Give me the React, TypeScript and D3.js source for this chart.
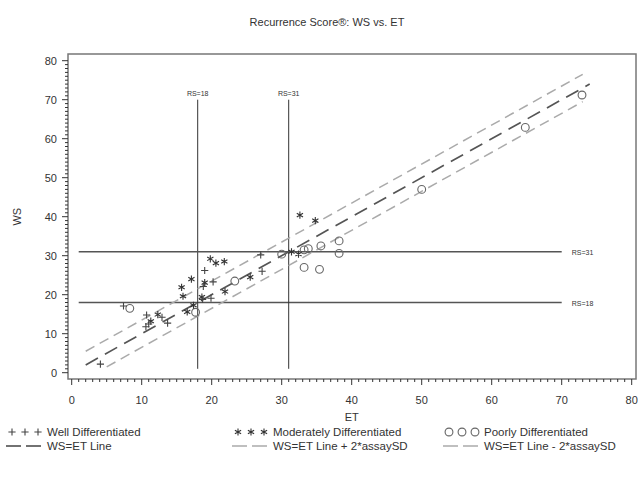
import { useEffect, useRef } from 'react';
import * as d3 from 'd3';

// [ET, WS] pairs
const wellDiff: [number, number][] = [
  [4.1, 2.2], [7.4, 17.1], [10.7, 14.8], [10.6, 11.8], [11.0, 12.5],
  [12.9, 14.2], [13.7, 12.7], [19.0, 26.2], [18.8, 22.1], [20.2, 23.3],
  [19.9, 19.1], [18.7, 18.8], [27.0, 30.2], [27.2, 26.0],
];
const modDiff: [number, number][] = [
  [11.3, 13.2], [12.3, 14.9], [15.7, 21.9], [15.9, 19.6], [17.1, 24.0],
  [16.5, 15.6], [17.4, 17.3], [18.6, 19.4], [19.0, 23.1], [19.8, 29.2],
  [20.6, 28.1], [21.8, 28.5], [21.9, 20.8], [25.5, 24.5], [31.4, 31.0],
  [32.4, 30.4], [32.6, 40.4], [34.8, 39.0],
];
const poorDiff: [number, number][] = [
  [8.3, 16.5], [17.7, 15.5], [23.3, 23.5], [30.0, 30.4], [33.2, 31.5],
  [33.8, 31.8], [35.6, 32.5], [38.2, 33.8], [38.2, 30.6], [33.2, 27.0],
  [35.4, 26.5], [50.0, 47.0], [64.8, 62.9], [72.9, 71.2],
];

const etLine: [number, number][] = [[2, 2], [74, 74]];
const etLinePlus: [number, number][] = [[2, 5.5], [73, 76.5]];
const etLineMinus: [number, number][] = [[5, 1.5], [73, 69.5]];

const rsCutoffs = [18, 31];
const refSpan = [1, 70];

const etTicks = [0, 10, 20, 30, 40, 50, 60, 70, 80];
const wsTicks = [0, 10, 20, 30, 40, 50, 60, 70, 80];

const title = 'Recurrence Score®: WS vs. ET';

const FONT = '"Liberation Sans", Arial, sans-serif';
const INK = '#333';

function plusPath(cx: number, cy: number, r: number) {
  return `M${cx - r},${cy}H${cx + r}M${cx},${cy - r}V${cy + r}`;
}
function starPath(cx: number, cy: number, r: number) {
  const dx = r * Math.cos(Math.PI / 6);
  const dy = r * Math.sin(Math.PI / 6);
  return `M${cx},${cy - r}V${cy + r}M${cx - dx},${cy - dy}L${cx + dx},${cy + dy}M${cx - dx},${cy + dy}L${cx + dx},${cy - dy}`;
}

export default function App() {
  const svgRef = useRef<SVGSVGElement>(null);

  useEffect(() => {
    if (!svgRef.current) return;
    const svg = d3.select(svgRef.current);
    svg.selectAll('*').remove();

    const x = d3.scaleLinear().domain([0, 80]).range([71.7, 631.7]);
    const y = d3.scaleLinear().domain([0, 80]).range([372.7, 60.7]);
    const frame = { left: 68, right: 636, top: 54, bottom: 379 };

    // title
    svg.append('text')
      .attr('x', 327).attr('y', 26)
      .attr('text-anchor', 'middle')
      .attr('font-family', FONT).attr('font-size', 11)
      .attr('fill', INK)
      .text(title);

    // frame
    svg.append('rect')
      .attr('x', frame.left).attr('y', frame.top)
      .attr('width', frame.right - frame.left)
      .attr('height', frame.bottom - frame.top)
      .attr('fill', 'none').attr('stroke', '#777').attr('stroke-width', 1.5);

    // x axis
    const xAxis = svg.append('g').attr('transform', `translate(0,${frame.bottom})`);
    xAxis.selectAll('line.minor')
      .data(d3.range(0, 81, 1))
      .join('line')
      .attr('x1', (d) => x(d)).attr('x2', (d) => x(d))
      .attr('y1', 0).attr('y2', (d) => (d % 10 === 0 ? 6 : 3))
      .attr('stroke', INK).attr('stroke-width', 1);
    xAxis.selectAll('text')
      .data(etTicks)
      .join('text')
      .attr('x', (d) => x(d)).attr('y', 25)
      .attr('text-anchor', 'middle')
      .attr('font-family', FONT).attr('font-size', 11)
      .attr('fill', INK)
      .text((d) => d);
    svg.append('text')
      .attr('x', x(40)).attr('y', 421)
      .attr('text-anchor', 'middle')
      .attr('font-family', FONT).attr('font-size', 11)
      .attr('fill', INK)
      .text('ET');

    // y axis
    const yAxis = svg.append('g').attr('transform', `translate(${frame.left},0)`);
    yAxis.selectAll('line')
      .data(d3.range(0, 81, 1))
      .join('line')
      .attr('y1', (d) => y(d)).attr('y2', (d) => y(d))
      .attr('x1', 0).attr('x2', (d) => (d % 10 === 0 ? -6 : -3))
      .attr('stroke', INK).attr('stroke-width', 1);
    yAxis.selectAll('text')
      .data(wsTicks)
      .join('text')
      .attr('x', -11).attr('y', (d) => y(d) + 4)
      .attr('text-anchor', 'end')
      .attr('font-family', FONT).attr('font-size', 11)
      .attr('fill', INK)
      .text((d) => d);
    svg.append('text')
      .attr('transform', `translate(21,${y(40)}) rotate(-90)`)
      .attr('text-anchor', 'middle')
      .attr('font-family', FONT).attr('font-size', 11)
      .attr('fill', INK)
      .text('WS');

    // RS cut-off reference lines
    rsCutoffs.forEach((rs) => {
      svg.append('line')
        .attr('x1', x(refSpan[0])).attr('x2', x(refSpan[1]))
        .attr('y1', y(rs)).attr('y2', y(rs))
        .attr('stroke', '#555').attr('stroke-width', 1.5);
      svg.append('text')
        .attr('x', x(refSpan[1]) + 10).attr('y', y(rs) + 3)
        .attr('font-family', FONT).attr('font-size', 7)
        .attr('fill', INK)
        .text(`RS=${rs}`);
      svg.append('line')
        .attr('x1', x(rs)).attr('x2', x(rs))
        .attr('y1', y(refSpan[0])).attr('y2', y(refSpan[1]))
        .attr('stroke', '#333').attr('stroke-width', 1);
      svg.append('text')
        .attr('x', x(rs)).attr('y', y(refSpan[1]) - 4)
        .attr('text-anchor', 'middle')
        .attr('font-family', FONT).attr('font-size', 7)
        .attr('fill', INK)
        .text(`RS=${rs}`);
    });

    // diagonal lines
    const line = d3.line<[number, number]>().x((d) => x(d[0])).y((d) => y(d[1]));
    const lineStyles = [
      { data: etLinePlus, stroke: '#aaa', dash: '10,6', width: 1.5 },
      { data: etLineMinus, stroke: '#aaa', dash: '10,6', width: 1.5 },
      { data: etLine, stroke: '#555', dash: '14,8', width: 1.7 },
    ];
    lineStyles.forEach((s) => {
      svg.append('path')
        .datum(s.data)
        .attr('d', line)
        .attr('fill', 'none')
        .attr('stroke', s.stroke)
        .attr('stroke-width', s.width)
        .attr('stroke-dasharray', s.dash);
    });

    // points
    svg.append('g').selectAll('circle')
      .data(poorDiff)
      .join('circle')
      .attr('cx', (d) => x(d[0])).attr('cy', (d) => y(d[1]))
      .attr('r', 3.9)
      .attr('fill', 'none').attr('stroke', '#666').attr('stroke-width', 1.1);
    svg.append('g').selectAll('path')
      .data(modDiff)
      .join('path')
      .attr('d', (d) => starPath(x(d[0]), y(d[1]), 3.6))
      .attr('fill', 'none').attr('stroke', '#333').attr('stroke-width', 1.1);
    svg.append('g').selectAll('path')
      .data(wellDiff)
      .join('path')
      .attr('d', (d) => plusPath(x(d[0]), y(d[1]), 3.6))
      .attr('fill', 'none').attr('stroke', '#444').attr('stroke-width', 1.1);

    // legend
    const leg = svg.append('g').attr('font-family', FONT).attr('font-size', 11.5).attr('fill', INK);
    const row1 = 436;
    const row2 = 450;
    const cols = [12, 238, 449];
    const symX = [0, 13, 26];
    symX.forEach((dx) => {
      leg.append('path').attr('d', plusPath(cols[0] + dx, row1 - 4, 3.6))
        .attr('stroke', '#444').attr('stroke-width', 1.1).attr('fill', 'none');
      leg.append('path').attr('d', starPath(cols[1] + dx, row1 - 4, 3.6))
        .attr('stroke', '#333').attr('stroke-width', 1.1).attr('fill', 'none');
      leg.append('circle').attr('cx', cols[2] + dx).attr('cy', row1 - 4).attr('r', 3.9)
        .attr('stroke', '#666').attr('stroke-width', 1.1).attr('fill', 'none');
    });
    const legText1 = ['Well Differentiated', 'Moderately Differentiated', 'Poorly Differentiated'];
    const legText2 = ['WS=ET Line', 'WS=ET Line + 2*assaySD', 'WS=ET Line - 2*assaySD'];
    const legStroke = ['#444', '#aaa', '#aaa'];
    legText1.forEach((t, i) => {
      leg.append('text').attr('x', cols[i] + 35).attr('y', row1).text(t);
    });
    legText2.forEach((t, i) => {
      leg.append('line')
        .attr('x1', cols[i] - 6).attr('x2', cols[i] + 29)
        .attr('y1', row2 - 4).attr('y2', row2 - 4)
        .attr('stroke', legStroke[i]).attr('stroke-width', 1.5)
        .attr('stroke-dasharray', '15,5');
      leg.append('text').attr('x', cols[i] + 35).attr('y', row2).text(t);
    });
  }, []);

  return (
    <div style={{ position: 'absolute', left: 0, top: 0 }}>
      <svg ref={svgRef} width={638} height={477} style={{ display: 'block', background: '#fff' }}></svg>
    </div>
  );
}
